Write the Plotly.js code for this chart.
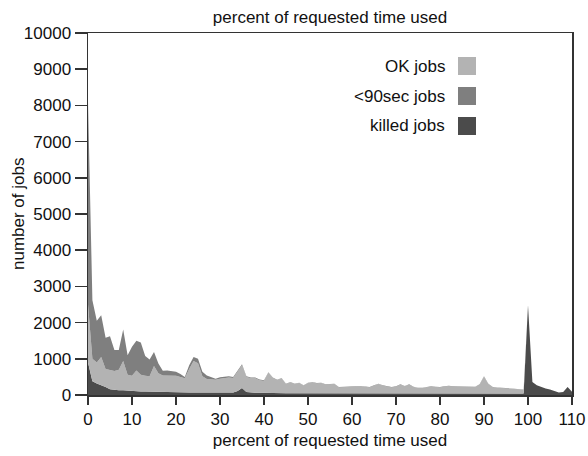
<!DOCTYPE html>
<html>
<head>
<meta charset="utf-8">
<script src="https://cdn.plot.ly/plotly-3.0.1.min.js"></script>
<style>html,body{margin:0;padding:0;background:#fff;}#chart{width:588px;height:456px;}</style>
</head>
<body>
<div id="chart"></div>
<script>
// percent of requested time used (x), 0..110 in 1% steps
const percentUsed = [];
for (let i = 0; i <= 110; i++) percentUsed.push(i);

const seriesNames = ["OK jobs", "<90sec jobs", "killed jobs"];

// killed jobs (bottom layer)
const killedJobs = [
  900,380,320,280,220,160,140,130,130,120,
  110,105,100,100,95,90,90,85,85,80,
  80,75,75,70,70,70,65,65,60,60,
  60,60,60,70,110,190,80,60,60,60,
  55,55,50,50,50,50,50,50,50,50,
  50,50,50,50,45,45,45,45,45,45,
  45,40,40,40,40,40,40,40,40,40,
  40,40,40,40,40,40,40,40,40,40,
  40,40,40,40,40,40,40,40,40,40,
  40,40,40,40,40,40,40,40,40,40,
  2480,360,270,220,180,150,110,70,80,220,
  90
];

// OK jobs (middle layer)
const okJobs = [
  1600,620,580,770,500,520,520,570,810,440,
  420,575,460,430,425,710,510,455,455,460,
  450,425,385,650,870,810,455,375,380,360,
  390,410,425,400,540,630,415,400,400,350,
  335,565,420,360,410,250,300,250,280,210,
  280,300,270,280,240,258,258,165,165,165,
  165,190,200,190,170,217,263,217,190,170,
  190,245,200,245,180,150,150,170,190,180,
  170,190,208,190,190,180,190,190,180,245,
  465,263,170,160,150,150,135,125,115,105,
  0,0,0,0,0,0,0,0,0,0,
  0
];

// <90sec jobs (top layer)
const shortJobs = [
  5600,1620,1150,1150,860,940,580,540,870,540,
  800,820,890,550,460,390,270,130,140,120,
  110,80,40,100,110,120,120,100,60,30,
  40,30,30,30,30,30,20,20,20,20,
  20,10,10,10,10,10,10,10,10,10,
  10,10,10,10,10,10,10,10,10,10,
  10,10,10,10,10,10,10,10,10,10,
  10,10,10,10,10,10,10,10,10,10,
  10,10,10,10,10,10,10,10,10,10,
  10,10,10,10,10,10,10,10,10,10,
  0,0,0,0,0,0,0,0,0,0,
  0
];

const xTickVals = [0,10,20,30,40,50,60,70,80,90,100,110];
const yTickVals = [0,1000,2000,3000,4000,5000,6000,7000,8000,9000,10000];

const colors = {"OK jobs": "#b3b3b3", "<90sec jobs": "#7f7f7f", "killed jobs": "#4b4b4b"};
const FONT = "Liberation Sans, Arial, sans-serif";

function area(name, y) {
  return {
    x: percentUsed, y: y, name: name, type: "scatter", mode: "lines",
    stackgroup: "one", line: {width: 0, color: colors[name]},
    fillcolor: colors[name], showlegend: false, hoverinfo: "skip"
  };
}

const data = [
  area("killed jobs", killedJobs),
  area("OK jobs", okJobs),
  area("<90sec jobs", shortJobs)
];

// custom legend: text left, swatch right
const W = 588, H = 456, L = 88, R = 16, T = 33, B = 61;
const pw = W - L - R, ph = H - T - B;
const px = X => (X - L) / pw;
const py = Y => (H - B - Y) / ph;

const annotations = [];
const shapes = [];
seriesNames.forEach((n, i) => {
  const cy = 66 + 30 * i;
  annotations.push({
    text: n, xref: "paper", yref: "paper", x: px(447), y: py(cy),
    xanchor: "right", yanchor: "middle", showarrow: false,
    font: {family: FONT, size: 17, color: "#111"}
  });
  shapes.push({
    type: "rect", xref: "paper", yref: "paper",
    x0: px(458), x1: px(476), y0: py(cy - 9), y1: py(cy + 9),
    fillcolor: colors[n], line: {width: 0}
  });
});
annotations.push({
  text: "number of jobs", textangle: -90, xref: "paper", yref: "paper",
  x: px(18), y: 0.5, xanchor: "center", yanchor: "middle", showarrow: false,
  font: {family: FONT, size: 17, color: "#111"}
});

const layout = {
  width: W, height: H,
  margin: {l: L, r: R, t: T, b: B, pad: 0},
  paper_bgcolor: "#fff", plot_bgcolor: "#fff",
  font: {family: FONT, size: 17, color: "#111"},
  title: {text: "percent of requested time used", x: 0.5, xref: "paper",
          y: 1 - 17 / H, yref: "container", yanchor: "middle",
          font: {family: FONT, size: 17, color: "#111"}},
  xaxis: {
    range: [0, 110], tickvals: xTickVals, ticks: "outside", ticklen: 8,
    tickwidth: 1.5, tickcolor: "#333", showline: true, linecolor: "#333",
    linewidth: 1.5, mirror: true, showgrid: false, zeroline: false,
    title: {text: "percent of requested time used", standoff: 6,
            font: {family: FONT, size: 17, color: "#111"}},
    tickfont: {family: FONT, size: 17, color: "#111"}, fixedrange: true
  },
  yaxis: {
    range: [0, 10000], tickvals: yTickVals, tickformat: "d", ticks: "outside",
    ticklen: 12, tickwidth: 1.5, tickcolor: "#333", showline: true,
    linecolor: "#333", linewidth: 1.5, mirror: true, showgrid: false,
    zeroline: false, tickfont: {family: FONT, size: 17, color: "#111"},
    fixedrange: true
  },
  annotations: annotations,
  shapes: shapes,
  showlegend: false
};

Plotly.newPlot("chart", data, layout, {displayModeBar: false, staticPlot: true});
</script>
</body>
</html>
